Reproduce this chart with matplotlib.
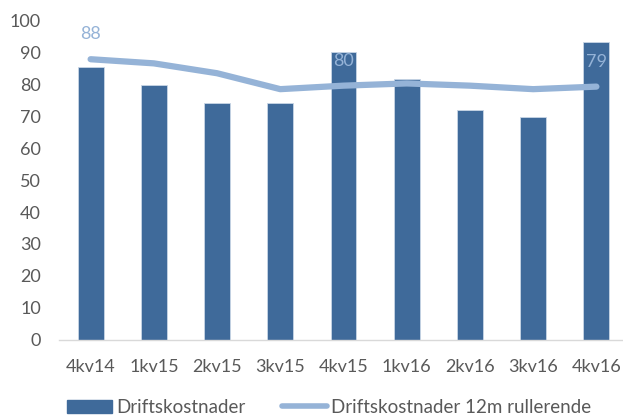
import matplotlib
matplotlib.use("Agg")
import matplotlib.pyplot as plt
from matplotlib.patches import Patch
from matplotlib.lines import Line2D

# data
quarters = ["4kv14", "1kv15", "2kv15", "3kv15", "4kv15", "1kv16", "2kv16", "3kv16", "4kv16"]
costs = [85.6, 79.9, 74.2, 74.2, 90.4, 81.9, 72.1, 70.0, 93.5]
rolling = [88.0, 86.7, 83.6, 78.6, 79.7, 80.4, 79.7, 78.6, 79.4]
labelled = {0: "88", 4: "80", 8: "79"}

bar_color = "#3F6A9A"
line_color = "#95B3D7"
text_color = "#595959"

plt.rcParams["font.family"] = ["Lato", "DejaVu Sans"]

fig = plt.figure(figsize=(6.23, 4.17), dpi=100)
ax = fig.add_axes([59 / 623, 77.5 / 417, 569 / 623, 318.5 / 417])

x = list(range(len(quarters)))
ax.bar(x, costs, width=0.41, color=bar_color, edgecolor="#C9D6E6", linewidth=0.6, zorder=2)
ax.plot(x, rolling, color=line_color, linewidth=4.5, solid_capstyle="round", zorder=3)

for i, txt in labelled.items():
    ax.annotate(txt, (i, rolling[i]), xytext=(0, 18), textcoords="offset points",
                ha="center", va="center", color=line_color, fontsize=13, zorder=4)

ax.set_xlim(-0.5, len(quarters) - 0.5)
ax.set_ylim(0, 100)
ax.set_yticks(range(0, 101, 10))
ax.set_xticks(x)
ax.set_xticklabels(quarters)
ax.tick_params(axis="both", length=0, labelsize=13, colors=text_color)
ax.tick_params(axis="y", pad=13)
ax.tick_params(axis="x", pad=14)

for side in ["top", "right", "left"]:
    ax.spines[side].set_visible(False)
ax.spines["bottom"].set_color("#D9D9D9")
ax.spines["bottom"].set_linewidth(1.0)

handles = [Patch(facecolor=bar_color, edgecolor=bar_color),
           Line2D([0], [0], color=line_color, linewidth=4, solid_capstyle="round")]
fig.legend(handles, ["Driftskostnader", "Driftskostnader 12m rullerende"],
           loc="center left", bbox_to_anchor=(67 / 623, 9.5 / 417), ncol=2, frameon=False,
           fontsize=13.5, labelcolor=text_color, handlelength=2.4, handleheight=0.7,
           handletextpad=0.25, columnspacing=1.9, borderpad=0, borderaxespad=0)

fig.savefig("out.png", dpi=100)
